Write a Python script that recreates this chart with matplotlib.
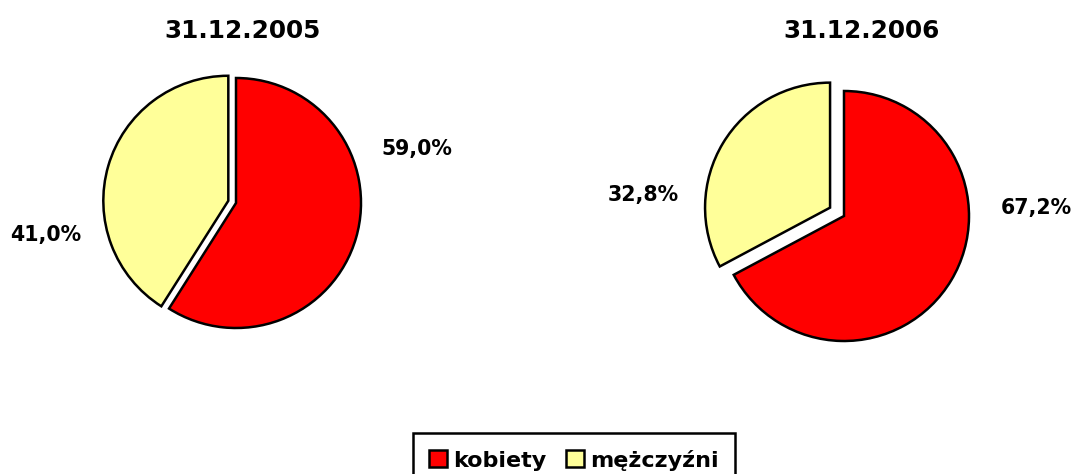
import matplotlib
matplotlib.use("Agg")
import matplotlib.pyplot as plt
from matplotlib.patches import Patch

plt.rcParams['font.family'] = ['DejaVu Sans']

categories = ["kobiety", "mężczyźni"]
titles = ["31.12.2005", "31.12.2006"]
values_2005 = [59.0, 41.0]
values_2006 = [67.2, 32.8]
colors = ["#FF0000", "#FFFF99"]

W, H = 1077, 474
fig = plt.figure(figsize=(W / 100, H / 100), dpi=100)

R = 125  # radius px
K = 1.6  # axes half-size in units of radius


def pie_axes(cx, cy):
    half = R * K
    ax = fig.add_axes([(cx - half) / W, (H - cy - half) / H, 2 * half / W, 2 * half / H])
    return ax


def fmt(v):
    return f"{v:.1f}".replace('.', ',') + '%'


pies = [
    (values_2005, (236, 203), [0.0, 0.064], titles[0], (243, 37.5),
     [(417, 155), (46, 241)]),
    (values_2006, (844, 216), [0.0, 0.13], titles[1], (862, 37.5),
     [(1036, 214), (643, 201)]),
]

for vals, (cx, cy), expl, title, (tx, ty), label_pos in pies:
    ax = pie_axes(cx, cy)
    ax.pie(vals, colors=colors, startangle=90, counterclock=False,
           explode=expl, radius=1.0,
           wedgeprops=dict(edgecolor='black', linewidth=1.8))
    ax.set_xlim(-K, K)
    ax.set_ylim(-K, K)
    ax.set_aspect('equal')
    ax.axis('off')
    fig.text(tx / W, 1 - ty / H, title, ha='center', va='baseline',
             fontsize=17.8, fontweight='bold')
    for v, (lx, ly) in zip(vals, label_pos):
        fig.text(lx / W, 1 - ly / H, fmt(v), ha='center', va='baseline',
                 fontsize=14.8, fontweight='bold')

handles = [Patch(facecolor=c, edgecolor='black', linewidth=1.8) for c in colors]
leg = fig.legend(handles, categories, loc='upper center',
                 bbox_to_anchor=(574 / W, 1 - 433 / H),
                 ncol=2, frameon=True, fancybox=False, shadow=False,
                 prop=dict(size=16, weight='bold'),
                 handlelength=0.8, handleheight=0.8, handletextpad=0.27,
                 columnspacing=0.9, borderpad=0.75, borderaxespad=0)
leg.get_frame().set_edgecolor('black')
leg.get_frame().set_linewidth(1.8)
leg.get_frame().set_alpha(1)

fig.savefig("out.png", dpi=100, facecolor='white')
